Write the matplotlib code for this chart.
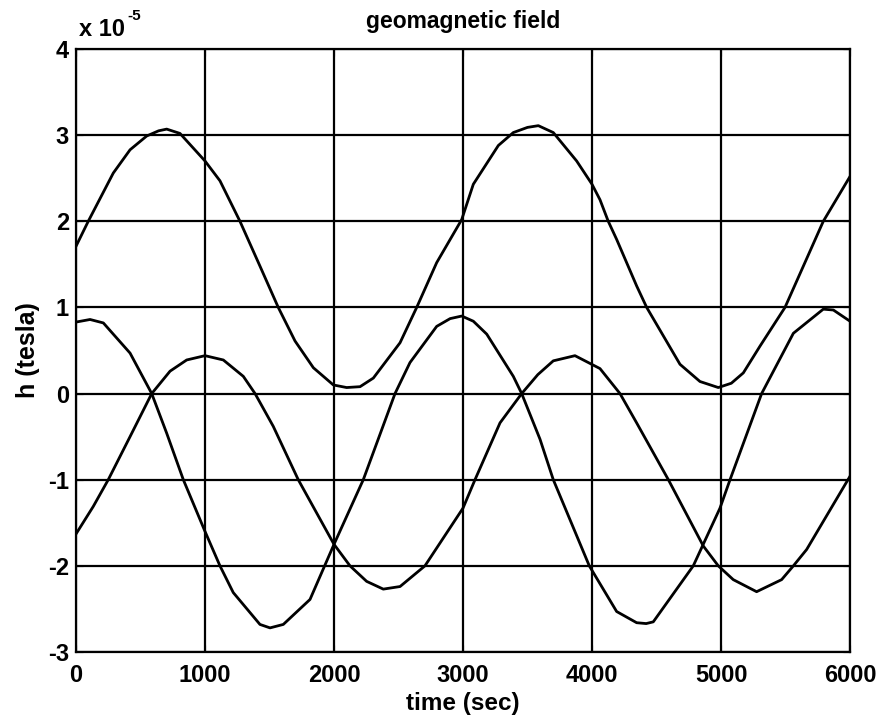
import matplotlib
matplotlib.use('Agg')
import matplotlib.pyplot as plt

# Odczytane punkty trzech skladowych pola (w jednostkach 1e-5 T)
t_a = [0, 95, 289, 419, 548, 640, 703, 806, 1000, 1116, 1271, 1426, 1568, 1698,
       1840, 1995, 2098, 2202, 2305, 2512, 2641, 2796, 2990, 3080, 3274, 3390,
       3500, 3584, 3700, 3881, 4000, 4062, 4126, 4191, 4346, 4424, 4682, 4837,
       4979, 5080, 5173, 5302, 5496, 5793, 6000]
h_a = [1.71, 2.00, 2.56, 2.83, 2.99, 3.05, 3.07, 3.02, 2.70, 2.47, 2.00, 1.48, 1.00, 0.61,
       0.30, 0.10, 0.07, 0.08, 0.18, 0.59, 1.00, 1.52, 2.02, 2.43, 2.88, 3.03,
       3.09, 3.11, 3.03, 2.70, 2.43, 2.25, 2.00, 1.79, 1.25, 1.00, 0.34, 0.14,
       0.07, 0.12, 0.24, 0.55, 1.00, 2.00, 2.52]

t_b = [0, 109, 212, 419, 587, 703, 832, 1000, 1116, 1219, 1426, 1504, 1607, 1814,
       2000, 2227, 2473, 2589, 2796, 2900, 2990, 3080, 3184, 3390, 3455, 3597, 3700, 3979,
       4191, 4346, 4420, 4475, 4785, 4992, 5070, 5315, 5561, 5793, 5871, 6000]
h_b = [0.83, 0.86, 0.82, 0.47, 0.00, -0.46, -1.00, -1.60, -2.00, -2.31, -2.68, -2.72, -2.68, -2.39,
       -1.75, -1.00, 0.00, 0.36, 0.78, 0.87, 0.90, 0.84, 0.69, 0.20, 0.00, -0.53, -1.00, -2.00,
       -2.53, -2.66, -2.67, -2.65, -2.00, -1.33, -1.00, 0.00, 0.70, 0.98, 0.97, 0.84]

t_c = [0, 134, 250, 419, 587, 729, 858, 1000, 1142, 1297, 1388, 1529, 1723, 2000,
       2124, 2253, 2382, 2512, 2705, 3000, 3093, 3287, 3455, 3580, 3700, 3868, 4062,
       4217, 4346, 4592, 4863, 4979, 5095, 5276, 5470, 5561, 5664, 6000]
h_c = [-1.63, -1.31, -1.00, -0.50, 0.00, 0.26, 0.39, 0.44, 0.39, 0.20, 0.00, -0.38, -1.00, -1.75,
       -2.00, -2.18, -2.27, -2.24, -2.00, -1.33, -1.00, -0.34, 0.00, 0.22, 0.38, 0.44, 0.29,
       0.00, -0.34, -1.00, -1.77, -2.00, -2.16, -2.30, -2.16, -2.00, -1.81, -0.96]

x_ticks = [0, 1000, 2000, 3000, 4000, 5000, 6000]
y_ticks = [-3, -2, -1, 0, 1, 2, 3, 4]

plt.rcParams['font.family'] = ['Liberation Sans', 'DejaVu Sans']
plt.rcParams['axes.unicode_minus'] = False

fig = plt.figure(figsize=(8.8, 7.27), dpi=100)
ax = fig.add_axes([76 / 880, 1 - 652 / 727, 774 / 880, 603 / 727])

for t, h in [(t_a, h_a), (t_b, h_b), (t_c, h_c)]:
    ax.plot(t, h, color='black', linewidth=2.0)

ax.set_xlim(0, 6000)
ax.set_ylim(-3, 4)
ax.set_xticks(x_ticks)
ax.set_yticks(y_ticks)
ax.grid(True, color='black', linestyle='-', linewidth=1.6)
for s in ax.spines.values():
    s.set_linewidth(1.6)

ax.tick_params(direction='in', length=5, top=True, right=True, labelsize=17)
ax.tick_params(axis='x', pad=9)
ax.tick_params(axis='y', pad=5)
for lab in ax.get_xticklabels() + ax.get_yticklabels():
    lab.set_fontweight('bold')

ax.set_title('geomagnetic field', fontsize=16.5, fontweight='bold', pad=15)
ax.set_xlabel('time (sec)', fontsize=17.5, fontweight='bold', labelpad=3)
ax.set_ylabel('h (tesla)', fontsize=18, fontweight='bold', labelpad=6)

# mnoznik osi y: "x 10" z indeksem gornym "-5"
fig.text(79 / 880, 1 - 36 / 727, 'x 10', fontsize=17, fontweight='bold')
fig.text(127 / 880, 1 - 20 / 727, '-5', fontsize=11, fontweight='bold')

fig.savefig('out.png', dpi=100)
